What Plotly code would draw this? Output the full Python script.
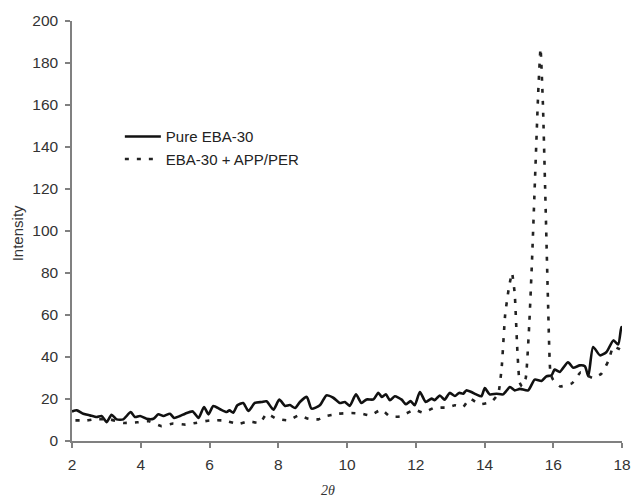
import plotly.graph_objects as go

# Pure EBA-30 diffraction trace
pure_2theta = [2.0, 2.14, 2.33, 2.52, 2.72, 2.86, 3.01, 3.15, 3.30, 3.49, 3.71, 3.83, 3.98,
               4.17, 4.37, 4.51, 4.66, 4.85, 4.97, 5.14, 5.29, 5.51, 5.68, 5.84, 5.97, 6.11,
               6.31, 6.50, 6.58, 6.69, 6.81, 6.98, 7.13, 7.32, 7.52, 7.66, 7.86, 8.03, 8.20,
               8.34, 8.49, 8.63, 8.83, 8.97, 9.21, 9.40, 9.60, 9.79, 9.94, 10.08, 10.26, 10.42,
               10.57, 10.77, 10.91, 11.01, 11.13, 11.25, 11.39, 11.59, 11.71, 11.85, 11.97,
               12.12, 12.29, 12.46, 12.55, 12.70, 12.84, 12.99, 13.14, 13.26, 13.38, 13.47,
               13.62, 13.76, 13.91, 14.01, 14.15, 14.35, 14.54, 14.74, 14.88, 15.03, 15.27,
               15.46, 15.66, 15.80, 15.95, 16.04, 16.19, 16.43, 16.58, 16.77, 16.92, 17.02,
               17.16, 17.36, 17.55, 17.75, 17.89, 17.98, 18.0]
pure_intensity = [14.1, 14.6, 13.0, 12.2, 11.4, 11.9, 9.0, 12.5, 10.3, 10.3, 13.8, 11.4, 11.9,
                  10.6, 10.6, 12.7, 11.9, 13.0, 11.0, 11.9, 13.0, 14.1, 11.0, 16.2, 12.7, 16.7,
                  15.1, 13.8, 14.6, 13.5, 17.0, 18.1, 14.3, 18.1, 18.6, 18.9, 14.9, 19.7, 16.7,
                  17.1, 15.7, 18.6, 21.0, 15.4, 17.0, 21.7, 20.6, 18.1, 18.6, 16.7, 22.2, 18.1,
                  19.8, 19.8, 23.0, 21.0, 22.2, 19.4, 21.3, 19.7, 17.5, 19.0, 17.0,
                  23.3, 18.6, 20.2, 19.4, 21.7, 19.7, 22.9, 21.4, 22.9, 22.5, 24.1,
                  23.3, 22.2, 21.3, 25.2, 22.2, 22.5, 22.2, 25.7, 24.1, 24.8, 24.1,
                  29.2, 28.6, 30.8, 31.3, 34.0, 32.9, 37.5, 34.9, 36.0, 35.6, 30.8,
                  44.8, 40.8, 42.4, 47.9, 46.0, 54.3, 53.5]

# EBA-30 + APP/PER diffraction trace
blend_2theta = [2.1, 2.3, 2.44, 2.62, 3.1, 3.5, 3.9, 4.24, 4.6, 4.94, 5.3, 5.6, 6.0, 6.4,
                6.8, 6.89, 7.13, 7.47, 7.66, 7.95, 8.3, 8.59, 8.88, 9.17, 9.35, 9.74, 10.13,
                10.42, 10.67, 11.0, 11.25, 11.54, 11.97, 12.21, 12.55, 12.89, 13.14, 13.38,
                13.57, 13.86, 14.2, 14.4, 14.5, 14.6, 14.7, 14.8, 14.88, 14.95, 15.02, 15.09,
                15.2, 15.3, 15.38, 15.47, 15.56, 15.63, 15.7, 15.78, 15.85, 15.92, 16.0,
                16.2, 16.55, 16.8, 17.15, 17.4, 17.6, 17.75, 17.9, 18.0]
blend_intensity = [9.8, 9.8, 9.8, 10.3, 10.3, 8.6, 8.9, 9.4, 7.1, 8.3, 7.8, 8.6, 9.8, 9.8,
                   8.3, 8.3, 9.4, 8.6, 13.0, 10.6, 9.8, 12.2, 10.6, 10.3, 11.7, 13.0, 13.3,
                   13.0, 12.2, 14.9, 11.7, 11.7, 14.9, 13.5, 15.9, 15.9, 17.0, 16.2,
                   20.2, 17.5, 18.6, 22.5, 35.0, 60.0, 72.0, 80.0, 70.0, 45.0, 28.0, 26.0,
                   30.0, 55.0, 85.0, 125.0, 165.0, 187.0, 160.0, 110.0, 65.0, 32.0, 29.0,
                   26.0, 27.5, 32.7, 30.0, 32.0, 38.0, 45.0, 44.0, 43.0]

x_ticks = [2, 4, 6, 8, 10, 12, 14, 16, 18]
y_ticks = [0, 20, 40, 60, 80, 100, 120, 140, 160, 180, 200]

sans = "Liberation Sans, Arial, sans-serif"

fig = go.Figure()
fig.add_trace(go.Scatter(
    x=pure_2theta, y=pure_intensity, mode="lines", name="Pure EBA-30",
    line=dict(color="#111111", width=2.6, shape="spline", smoothing=0.6),
))
fig.add_trace(go.Scatter(
    x=blend_2theta, y=blend_intensity, mode="lines", name="EBA-30 + APP/PER",
    line=dict(color="#222222", width=2.6, dash="4px,8px", shape="spline", smoothing=0.4),
))

axis_font = dict(family=sans, size=15.5, color="#333333")

fig.update_layout(
    template="none",
    width=632, height=498,
    margin=dict(l=72, r=10, t=21, b=57, autoexpand=False),
    paper_bgcolor="white", plot_bgcolor="white",
    showlegend=True,
    legend=dict(
        x=0.087, y=0.7636, xanchor="left", yanchor="top",
        bgcolor="rgba(0,0,0,0)", borderwidth=0,
        font=dict(family=sans, size=15, color="#222222"),
        tracegroupgap=0, itemwidth=36,
    ),
    xaxis=dict(
        range=[2, 18], tickvals=x_ticks, ticktext=[str(t) for t in x_ticks],
        showgrid=False, zeroline=False, automargin=False,
        showline=True, linecolor="#808080", linewidth=1.5,
        ticks="outside", ticklen=5, tickcolor="#808080", tickwidth=1.5,
        tickfont=axis_font, ticklabelstandoff=4,
    ),
    yaxis=dict(
        range=[0, 200], tickvals=y_ticks, ticktext=[str(t) for t in y_ticks],
        showgrid=False, zeroline=False, automargin=False,
        showline=True, linecolor="#808080", linewidth=1.5,
        ticks="outside", ticklen=5, tickcolor="#808080", tickwidth=1.5,
        tickfont=axis_font, ticklabelstandoff=4,
    ),
    annotations=[
        dict(text="<i>2θ</i>", xref="paper", yref="paper", x=0.4655, y=0,
             xanchor="center", yanchor="middle", yshift=-49, showarrow=False,
             font=dict(family="Liberation Serif, Times New Roman, serif", size=14, color="#333333")),
        dict(text="Intensity", xref="paper", yref="paper", x=0, y=0.4945,
             xanchor="center", yanchor="middle", xshift=-55, textangle=-90, showarrow=False,
             font=dict(family=sans, size=15, color="#333333")),
    ],
)

fig.write_html("out.html")
